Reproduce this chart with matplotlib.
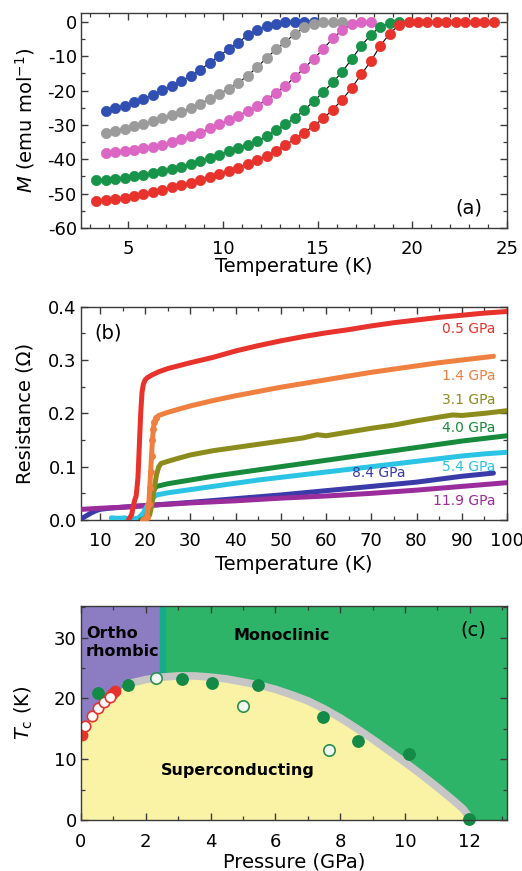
import matplotlib
matplotlib.use("Agg")
import matplotlib.pyplot as plt
from matplotlib.ticker import MultipleLocator, FormatStrFormatter

plt.rcParams['font.family'] = ['DejaVu Sans']
plt.rcParams['mathtext.fontset'] = 'dejavusans'
plt.rcParams['axes.unicode_minus'] = False

# ---------------- (a) magnetization vs temperature ----------------
temp_blue = [3.8, 4.3, 4.8, 5.3, 5.8, 6.3, 6.8, 7.3, 7.8, 8.3, 8.8, 9.3, 9.8, 10.3,
             10.8, 11.3, 11.8, 12.3, 12.8, 13.3, 13.8, 14.3, 14.8]
m_blue = [-25.9, -25.1, -24.4, -23.4, -22.4, -21.2, -19.9, -18.6, -17.2, -15.7, -13.9,
          -11.9, -9.9, -7.9, -6.0, -3.9, -2.4, -1.2, -0.5, -0.1, 0.0, 0.0, 0.0]

temp_gray = [3.8, 4.3, 4.8, 5.3, 5.8, 6.3, 6.8, 7.3, 7.8, 8.3, 8.8, 9.3, 9.8, 10.3,
             10.8, 11.3, 11.8, 12.3, 12.8, 13.3, 13.8, 14.3, 14.8, 15.3, 15.8, 16.3]
m_gray = [-32.2, -31.8, -31.2, -30.4, -29.6, -28.8, -28.0, -27.1, -26.1, -25.1, -23.8,
          -22.4, -21.0, -19.4, -17.7, -15.7, -13.2, -10.5, -8.0, -5.8, -3.4, -1.6,
          -0.5, -0.1, 0.0, 0.0]

temp_pink = [3.8, 4.3, 4.8, 5.3, 5.8, 6.3, 6.8, 7.3, 7.8, 8.3, 8.8, 9.3, 9.8, 10.3,
             10.8, 11.3, 11.8, 12.3, 12.8, 13.3, 13.8, 14.3, 14.8, 15.3, 15.8, 16.3,
             16.8, 17.3, 17.8]
m_pink = [-38.2, -37.9, -37.6, -37.2, -36.8, -36.3, -35.8, -35.1, -34.2, -33.3, -32.2,
          -31.0, -29.8, -28.6, -27.3, -25.9, -24.5, -22.6, -20.6, -18.6, -16.0, -13.4,
          -10.7, -7.8, -4.8, -2.3, -0.7, -0.1, 0.0]

temp_green = [3.3, 3.8, 4.3, 4.8, 5.3, 5.8, 6.3, 6.8, 7.3, 7.8, 8.3, 8.8, 9.3, 9.8,
              10.3, 10.8, 11.3, 11.8, 12.3, 12.8, 13.3, 13.8, 14.3, 14.8, 15.3, 15.8,
              16.3, 16.8, 17.3, 17.8, 18.3, 18.8, 19.3]
m_green = [-46.1, -45.9, -45.7, -45.4, -45.0, -44.5, -44.0, -43.4, -42.8, -42.2, -41.5,
           -40.6, -39.7, -38.6, -37.6, -36.6, -35.8, -34.8, -33.3, -31.5, -29.8, -27.9,
           -25.6, -23.0, -20.4, -17.6, -14.5, -10.8, -7.0, -3.8, -1.4, -0.2, 0.0]

temp_red = [3.3, 3.8, 4.3, 4.8, 5.3, 5.8, 6.3, 6.8, 7.3, 7.8, 8.3, 8.8, 9.3, 9.8,
            10.3, 10.8, 11.3, 11.8, 12.3, 12.8, 13.3, 13.8, 14.3, 14.8, 15.3, 15.8,
            16.3, 16.8, 17.3, 17.8, 18.3, 18.8, 19.3, 19.8, 20.3, 20.8, 21.3, 21.8,
            22.3, 22.8, 23.3, 23.8, 24.3]
m_red = [-52.1, -51.9, -51.6, -51.2, -50.7, -50.1, -49.5, -48.8, -48.2, -47.5, -46.8,
         -46.0, -45.2, -44.4, -43.4, -42.4, -41.3, -40.3, -39.0, -37.5, -35.8, -34.1,
         -32.2, -30.2, -28.1, -25.5, -22.6, -19.2, -15.3, -11.5, -7.0, -3.4, -0.9,
         -0.1, 0.0, 0.0, 0.0, 0.0, 0.0, 0.0, 0.0, 0.0, 0.0]

# ---------------- (b) resistance vs temperature ----------------
t_05 = [16.3, 17.0, 17.6, 18.0, 18.4, 18.7, 19.0, 19.3, 19.6, 20.0, 20.5, 21.5, 23, 25,
        30, 35, 40, 45, 50, 55, 60, 65, 70, 75, 80, 85, 90, 95, 100]
r_05 = [0.0, 0.01, 0.035, 0.045, 0.08, 0.14, 0.20, 0.24, 0.255, 0.263, 0.267, 0.272,
        0.278, 0.284, 0.295, 0.305, 0.317, 0.327, 0.336, 0.344, 0.351, 0.357, 0.364,
        0.370, 0.375, 0.380, 0.384, 0.388, 0.391]

t_14 = [19.5, 20.3, 20.8, 21.0, 21.2, 21.4, 21.6, 21.8, 22.0, 22.4, 23, 25, 30, 35, 40,
        45, 50, 55, 60, 65, 70, 75, 80, 85, 90, 95, 97]
r_14 = [0.0, 0.005, 0.03, 0.06, 0.09, 0.12, 0.15, 0.17, 0.183, 0.192, 0.196, 0.202,
        0.214, 0.224, 0.233, 0.241, 0.249, 0.256, 0.263, 0.270, 0.277, 0.283, 0.289,
        0.295, 0.300, 0.305, 0.307]

t_31 = [19.5, 20.5, 21.0, 21.5, 22.0, 22.5, 23.0, 23.5, 25, 27, 30, 35, 40, 45, 50, 55,
        58, 60, 65, 70, 75, 80, 85, 88, 90, 95, 100]
r_31 = [0.0, 0.002, 0.01, 0.03, 0.06, 0.085, 0.10, 0.106, 0.110, 0.115, 0.122, 0.130,
        0.136, 0.142, 0.148, 0.154, 0.160, 0.158, 0.165, 0.172, 0.178, 0.186, 0.193,
        0.197, 0.196, 0.200, 0.205]

t_40 = [19.0, 20.0, 20.5, 21.0, 21.5, 22.0, 22.5, 25, 30, 35, 40, 45, 50, 55, 60, 65,
        70, 75, 80, 85, 90, 95, 100]
r_40 = [0.0, 0.003, 0.01, 0.025, 0.045, 0.058, 0.063, 0.068, 0.075, 0.082, 0.088, 0.094,
        0.100, 0.106, 0.112, 0.118, 0.124, 0.130, 0.136, 0.142, 0.148, 0.153, 0.158]

t_54 = [12.5, 14.0, 15.5, 16.5, 17.5, 18.5, 19.5, 20.5, 21.5, 22.5, 25, 30, 35, 40, 45,
        50, 55, 60, 65, 70, 75, 80, 85, 90, 95, 100]
r_54 = [0.004, 0.003, 0.004, 0.001, 0.002, 0.004, 0.012, 0.028, 0.040, 0.047, 0.051,
        0.057, 0.063, 0.069, 0.075, 0.080, 0.085, 0.090, 0.095, 0.100, 0.105, 0.110,
        0.115, 0.120, 0.124, 0.127]

t_84 = [6.0, 7, 8, 9, 10, 12, 15, 20, 30, 40, 50, 60, 70, 80, 90, 97]
r_84 = [0.003, 0.008, 0.013, 0.017, 0.020, 0.022, 0.024, 0.027, 0.033, 0.040, 0.047,
        0.055, 0.063, 0.071, 0.082, 0.088]

t_119 = [6, 10, 15, 20, 30, 40, 50, 60, 70, 80, 90, 100]
r_119 = [0.020, 0.022, 0.024, 0.027, 0.032, 0.036, 0.041, 0.045, 0.050, 0.056, 0.063,
         0.070]

pressure_labels = ['0.5 GPa', '1.4 GPa', '3.1 GPa', '4.0 GPa', '5.4 GPa', '8.4 GPa', '11.9 GPa']

# ---------------- (c) phase diagram ----------------
dome_p = [0, 0.2, 0.4, 0.7, 1.0, 1.3, 1.6, 2.0, 2.5, 3.0, 3.5, 4.0, 4.5, 5.0, 5.5, 6.0,
          6.5, 7.0, 7.5, 8.0, 8.5, 9.0, 9.5, 10.0, 10.5, 11.0, 11.5, 11.8, 12.05]
dome_tc = [14.5, 16.0, 17.6, 19.4, 20.9, 21.9, 22.6, 23.1, 23.5, 23.7, 23.7, 23.5, 23.2,
           22.7, 22.2, 21.5, 20.6, 19.6, 18.3, 16.8, 15.1, 13.3, 11.4, 9.5, 7.5, 5.4,
           3.2, 1.8, 0.0]
ortho_mono_boundary = 2.45

p_green_filled = [0.53, 1.46, 3.12, 4.05, 5.47, 7.46, 8.55, 10.12, 11.97]
tc_green_filled = [20.9, 22.2, 23.2, 22.6, 22.2, 16.9, 13.0, 10.9, 0.1]
p_green_open = [2.31, 4.99, 7.66]
tc_green_open = [23.3, 18.75, 11.5]
p_red_filled = [0.02, 0.85, 0.95, 1.05]
tc_red_filled = [14.0, 20.3, 20.8, 21.3]
p_red_open = [0.13, 0.33, 0.53, 0.71, 0.89]
tc_red_open = [15.5, 17.1, 18.5, 19.4, 20.3]

# ---------------- figure ----------------
W, H = 522, 871
fig = plt.figure(figsize=(W / 100, H / 100), dpi=100)
left, width = 81 / W, 426 / W
ax_a = fig.add_axes([left, 1 - 228 / H, width, 215 / H])
ax_b = fig.add_axes([left, 1 - 520 / H, width, 213.3 / H])
ax_c = fig.add_axes([left, 1 - 820 / H, width, 214 / H])

spine_col = '#3a3a3a'
for ax in (ax_a, ax_b, ax_c):
    for s in ax.spines.values():
        s.set_color(spine_col)
        s.set_linewidth(1.0)
    ax.tick_params(which='both', direction='in', top=True, right=True,
                   color=spine_col, labelsize=13)
    ax.tick_params(which='major', length=5, width=1.0)
    ax.tick_params(which='minor', length=3, width=0.9)
    ax.tick_params(axis='x', pad=9)
    ax.tick_params(axis='y', pad=3)

# (a)
series_a = [
    (temp_blue, m_blue, '#2f4fb2'),
    (temp_gray, m_gray, '#9b9b9b'),
    (temp_pink, m_pink, '#dc66c4'),
    (temp_green, m_green, '#17944a'),
    (temp_red, m_red, '#e8322c'),
]
for t, m, c in series_a:
    ax_a.plot(t, m, '-', color='k', lw=0.8, marker='o', ms=7.4,
              mfc=c, mec=c, mew=0.5, zorder=3)
ax_a.set_xlim(2.5, 25)
ax_a.set_ylim(-60, 2.6)
ax_a.xaxis.set_major_locator(MultipleLocator(5))
ax_a.xaxis.set_minor_locator(MultipleLocator(1))
ax_a.yaxis.set_major_locator(MultipleLocator(10))
ax_a.yaxis.set_minor_locator(MultipleLocator(5))
ax_a.set_xlabel('Temperature (K)', fontsize=14)
ax_a.set_ylabel(r'$M$ (emu mol$^{-1}$)', fontsize=14)
ax_a.xaxis.set_label_coords(0.5, -0.135)
ax_a.yaxis.set_label_coords(-0.103, 0.5)
ax_a.text(23.0, -54.2, '(a)', fontsize=14, ha='center', va='center')

# (b)
series_b = [
    (t_84, r_84, '#3a3aa8'),
    (t_119, r_119, '#9a2c9c'),
    (t_54, r_54, '#2cc4e4'),
    (t_40, r_40, '#188a3c'),
    (t_31, r_31, '#8c8c1c'),
    (t_14, r_14, '#f08040'),
    (t_05, r_05, '#e8322c'),
]
for t, r, c in series_b:
    ax_b.plot(t, r, '-', color=c, lw=3.6, solid_capstyle='round',
              solid_joinstyle='round', zorder=3)
# the steep 1.4 GPa transition is resolved into separate readings
ax_b.plot(t_14[:10], r_14[:10], 'o', ms=4, mfc='#f08040', mec='#f08040', zorder=3)
ax_b.set_xlim(5.8, 100)
ax_b.set_ylim(0, 0.4)
ax_b.xaxis.set_major_locator(MultipleLocator(10))
ax_b.xaxis.set_minor_locator(MultipleLocator(5))
ax_b.yaxis.set_major_locator(MultipleLocator(0.1))
ax_b.yaxis.set_minor_locator(MultipleLocator(0.05))
ax_b.yaxis.set_major_formatter(FormatStrFormatter('%.1f'))
ax_b.set_xlabel('Temperature (K)', fontsize=14)
ax_b.set_ylabel('Resistance (Ω)', fontsize=14)
ax_b.xaxis.set_label_coords(0.5, -0.164)
ax_b.yaxis.set_label_coords(-0.108, 0.5)
ax_b.text(11.7, 0.35, '(b)', fontsize=14, ha='center', va='center')

label_pos = [(97.4, 0.358, 'right'), (97.4, 0.270, 'right'), (97.4, 0.225, 'right'),
             (97.4, 0.173, 'right'), (97.4, 0.100, 'right'), (71.6, 0.0876, 'center'),
             (97.4, 0.036, 'right')]
label_cols = ['#e8322c', '#f08040', '#8c8c1c', '#188a3c', '#2cc4e4', '#3a3aa8', '#9a2c9c']
for (x, y, ha), txt, c in zip(label_pos, pressure_labels, label_cols):
    ax_b.text(x, y, txt, color=c, fontsize=10, ha=ha, va='center', zorder=4)

# (c)
ax_c.set_facecolor('#2db469')
ax_c.axvspan(0, ortho_mono_boundary, color='#8c7dc3', zorder=0)
ax_c.axvspan(ortho_mono_boundary, ortho_mono_boundary + 0.15, color='#14aa8c', zorder=0)
ax_c.fill_between(dome_p, 0, dome_tc, color='#faf3a5', lw=0, zorder=1)
ax_c.plot(dome_p[5:], dome_tc[5:], color='#c6c6c6', lw=5.5, solid_capstyle='butt',
          solid_joinstyle='round', zorder=2)
ax_c.plot(p_red_filled, tc_red_filled, 'o', ms=7.5, mfc='#e8322c', mec='#e8322c', zorder=3)
ax_c.plot(p_red_open, tc_red_open, 'o', ms=7.5, mfc='white', mec='#e8322c', mew=1.2, zorder=4)
ax_c.plot(p_green_filled, tc_green_filled, 'o', ms=8.2, mfc='#138a46', mec='#138a46',
          zorder=4, clip_on=False)
ax_c.plot(p_green_open, tc_green_open, 'o', ms=8.2, mfc='#f2faf2', mec='#2b8f4f', mew=1.2,
          zorder=4)
ax_c.set_xlim(0, 13.15)
ax_c.set_ylim(0, 35.2)
ax_c.xaxis.set_major_locator(MultipleLocator(2))
ax_c.xaxis.set_minor_locator(MultipleLocator(1))
ax_c.yaxis.set_major_locator(MultipleLocator(10))
ax_c.yaxis.set_minor_locator(MultipleLocator(5))
ax_c.set_xlabel('Pressure (GPa)', fontsize=14)
ax_c.set_ylabel(r'$T_{\mathrm{c}}$ (K)', fontsize=14)
ax_c.xaxis.set_label_coords(0.5, -0.154)
ax_c.yaxis.set_label_coords(-0.108, 0.5)
ax_c.text(0.15, 29.2, 'Ortho\nrhombic', fontsize=11.5, fontweight='bold', ha='left',
          va='center', linespacing=1.25, zorder=5)
ax_c.text(6.19, 30.3, 'Monoclinic', fontsize=11.5, fontweight='bold', ha='center',
          va='center', zorder=5)
ax_c.text(4.85, 8.2, 'Superconducting', fontsize=11.5, fontweight='bold', ha='center',
          va='center', zorder=5)
ax_c.text(12.1, 31.2, '(c)', fontsize=14, ha='center', va='center', zorder=5)
for s in ax_c.spines.values():
    s.set_zorder(6)

fig.savefig('out.png', dpi=100)
